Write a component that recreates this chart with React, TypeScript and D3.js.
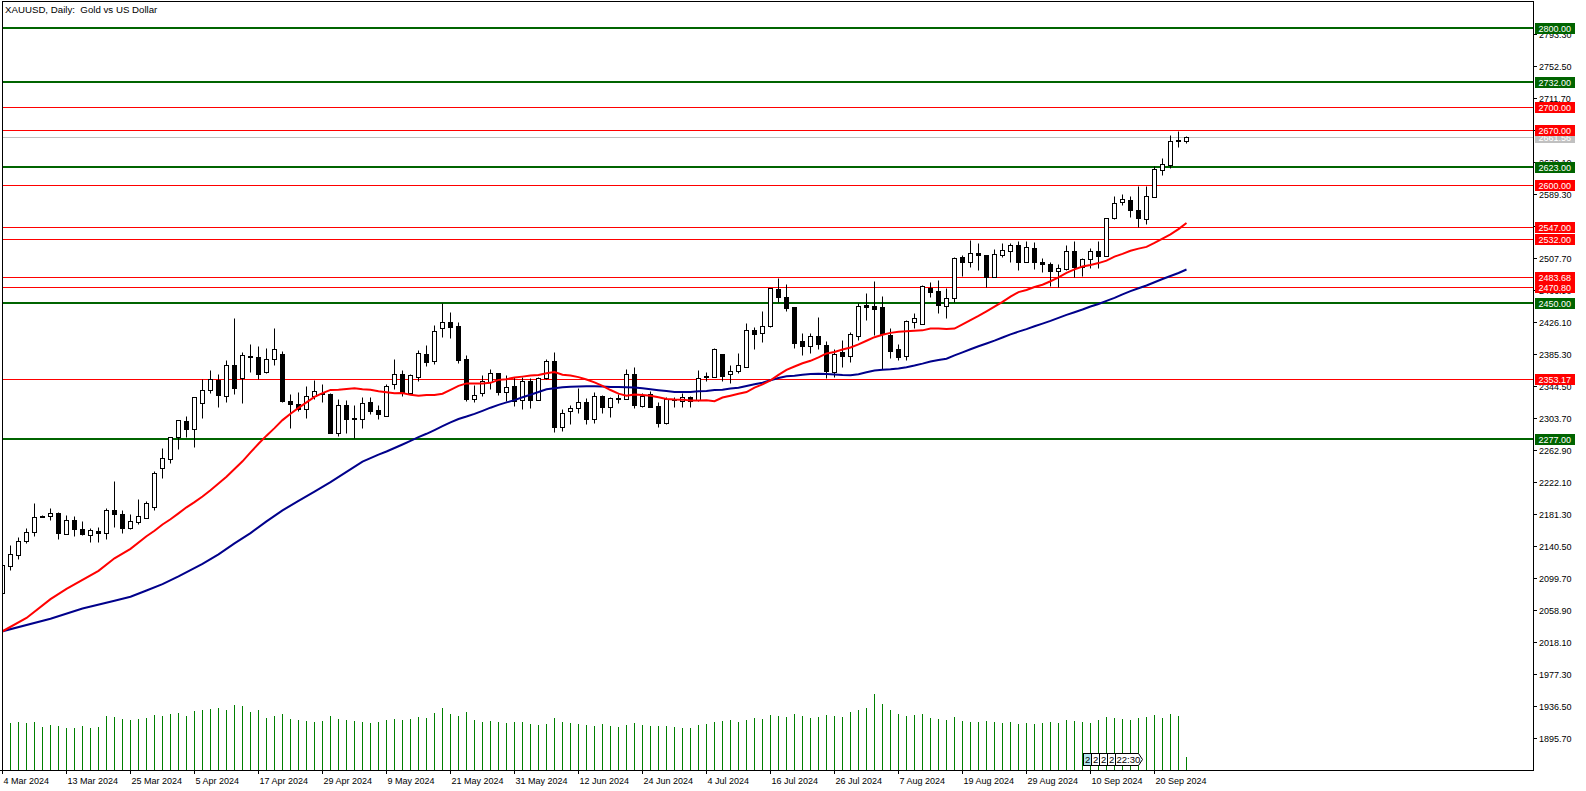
import React from "react";
import * as d3 from "d3";

const W = 1586;
const H = 791;

// OHLC, daily bars from 4 Mar 2024 to 26 Sep 2024
const opens = [2081.1,2115.5,2129.1,2146.5,2158,2179,2179.2,2182.2,2155.4,2173.7,2161.8,2154.1,2160.1,2156.7,2186,2180.9,2163.9,2170.7,2176.6,2190.6,2239.5,2250.9,2279,2299.8,2289.1,2322.3,2339.3,2352,2332,2370.7,2355,2381.4,2380.9,2362.6,2378.3,2384.7,2325.3,2321.4,2314.6,2332,2334.6,2334.2,2284,2320.1,2303.5,2301.9,2323.5,2313.8,2306.5,2346.5,2359.2,2335,2356.2,2384.7,2376.6,2417.8,2425.4,2420.8,2378.7,2328.2,2335.8,2349.9,2360.5,2337.1,2344.3,2326.5,2350.7,2326.5,2354.9,2376.2,2291.7,2312.1,2315.9,2323.5,2302.7,2331.6,2318,2328.9,2327.4,2359.2,2319.3,2333.7,2318.9,2297.7,2326.5,2325.7,2330.8,2326.5,2356.6,2355.4,2384.7,2359.2,2363,2369,2415.7,2411.9,2421.2,2467.5,2457.3,2444.6,2401.7,2395.7,2408.1,2396.2,2362.6,2388.1,2383,2408.5,2447.5,2446.3,2444.6,2409.3,2391.5,2382,2426.3,2423.4,2468.8,2465.4,2446.7,2456.1,2508.3,2502.8,2514.3,2511.3,2483.7,2510.8,2516.8,2524,2502.8,2519.8,2502.8,2499.4,2491.3,2493.4,2516.4,2496.4,2505.7,2516.4,2510.4,2558,2578.4,2580.9,2568.6,2556.7,2584.7,2619.1,2625.9,2657.8,2656.5];
const highs = [2117.5,2141.8,2151.6,2163,2195.7,2179.5,2188.5,2184.3,2180,2178.8,2172.8,2163,2164.3,2188.5,2223.3,2186.4,2181.3,2200,2197.9,2235.7,2265,2279.8,2300.6,2305.7,2329.9,2353.7,2364.7,2359.6,2377.5,2431.4,2388.1,2397.4,2395.3,2392.3,2418.2,2388.9,2333.7,2336.3,2343.9,2352,2346.5,2336,2327.4,2326.5,2320.1,2330.8,2330.8,2320.1,2346.5,2378.3,2364.7,2359.2,2390.2,2396.6,2422,2449.6,2439,2426.3,2383.8,2345.6,2358.4,2365.6,2361.3,2358.4,2355.4,2356.2,2354.1,2356.2,2378.3,2388.1,2314.6,2320.1,2341.4,2329.5,2336.7,2332.9,2330.8,2334.2,2366,2368.1,2335,2338,2324.4,2330.8,2330.8,2335,2331.6,2364.7,2362.6,2392.3,2384.7,2371.1,2385.9,2424.2,2419.9,2439.9,2468.8,2481.5,2474.3,2444.6,2411.5,2411.5,2431.8,2401.7,2391.1,2403,2413.6,2449.7,2463.2,2478.1,2459,2417.8,2397.4,2429,2437,2473,2477.3,2479.4,2468.8,2509.2,2511.3,2530.4,2526.1,2511.3,2518.5,2526.1,2527,2529.1,2529.1,2528.3,2507,2502.8,2499.4,2524,2529.1,2507.9,2519.8,2529.1,2558.8,2586.8,2589,2586.4,2599.6,2599.2,2625.1,2635.2,2664.1,2669.2,2663.3];
const lows = [2080,2110,2123.6,2144,2153.3,2177.5,2173.7,2149.9,2155.4,2153.3,2154.1,2145.2,2146.1,2149,2165.2,2156.7,2161.8,2169,2176.6,2186.4,2227.6,2245.8,2264.5,2279.8,2267.1,2303.2,2335.9,2318,2324.4,2333.7,2323.1,2362.6,2353.3,2361.3,2371.1,2324.4,2291.3,2313,2304,2328,2324.4,2284,2281,2284,2277.7,2291.3,2308.7,2302.7,2306.5,2340.5,2332,2333.7,2351.1,2370.2,2372.4,2407.2,2405.9,2373.2,2325.7,2324.4,2331.6,2340.1,2332.9,2325.7,2319.3,2314.6,2315.9,2326.5,2353.3,2286.2,2287.4,2295.9,2309.5,2295.5,2297,2309.5,2305.3,2323.1,2327.4,2315.9,2317.2,2318,2292.6,2296,2318,2318,2318,2325.7,2351.1,2355.4,2350.7,2348.6,2361.3,2369,2391.1,2400.8,2419.1,2451.8,2439.9,2393.2,2383.9,2386.8,2391.1,2354.1,2355.4,2369,2375.4,2403,2428.4,2409.3,2366,2380.5,2377.5,2378,2417.8,2423.4,2458.2,2437.8,2431.4,2451.8,2484.5,2496.4,2492.2,2470.1,2483.7,2508.3,2502.8,2492.2,2502.8,2493.4,2490,2472.2,2470.1,2492.2,2482.8,2484.5,2494.3,2494.3,2510.4,2556.7,2575,2560.1,2546.9,2550.3,2584.7,2613.2,2621.7,2649.3,2654.4];
const closes = [2116.3,2129.9,2146.9,2158,2177,2178,2182.2,2157.5,2173.7,2161.8,2155.4,2160.9,2157.5,2186,2180.9,2163.9,2172.4,2178.3,2195.3,2233.5,2252.2,2279.8,2300.6,2289.6,2329.9,2339.3,2352.8,2333.3,2370.7,2342.2,2383.4,2382,2359.2,2378.3,2391.1,2325.7,2321,2315.5,2331.6,2337.9,2335,2284.9,2320.1,2302.7,2302.7,2322.3,2312.9,2308.3,2344.8,2359.2,2335,2357.9,2386,2375.4,2414,2425.4,2419.9,2377.5,2327.8,2332.5,2350.7,2360.5,2337.1,2342.6,2325.2,2350.7,2326.5,2354.1,2376.2,2292.5,2309.5,2316.3,2323.5,2302.7,2331.6,2318,2328.6,2327.6,2359.2,2320.1,2332.1,2318,2297.7,2327.4,2327.4,2330.8,2325.7,2355,2355.8,2391.1,2357.5,2363,2370.7,2415.7,2410.2,2421.2,2468.8,2458.2,2444.1,2399.6,2395.7,2408.5,2397.4,2363.9,2385.1,2383,2410.2,2446.3,2445.4,2442.5,2410.2,2389.4,2381.7,2427.2,2430.6,2472.2,2464.6,2447.6,2456.1,2507,2502.8,2513.4,2510.8,2483.7,2512.1,2517.2,2524,2502.8,2521,2502.8,2499.4,2491.3,2494.3,2516.4,2496.4,2506.2,2516.4,2510.4,2558,2577.1,2582.2,2568.2,2558,2586.4,2620.8,2626.8,2656.5,2656.1,2661.2];
const volumes = [239,235,239,235,240,215,225,220,210,212,218,208,215,270,265,255,250,255,260,275,270,280,285,270,295,300,305,310,300,325,320,290,300,260,270,280,255,250,245,240,245,270,255,250,245,240,235,240,250,255,250,255,265,260,285,310,280,270,290,250,240,245,240,235,238,240,230,225,228,260,240,235,230,225,222,228,220,215,225,235,225,220,218,222,215,210,212,225,230,240,245,250,240,250,260,255,275,270,265,280,270,260,265,275,270,265,290,300,310,380,330,300,280,270,275,280,260,255,250,265,245,240,238,245,240,235,240,230,235,228,235,240,235,250,245,240,235,250,265,260,255,250,260,265,275,260,280,270,67];

const ma20EarlyIdx = [0, 3, 6, 8, 12, 14, 16, 18];
const ma20EarlyVal = [2032, 2049, 2073, 2086, 2109, 2125, 2137, 2153];
const ma50EarlyIdx = [0, 6, 10, 14, 16, 18, 20, 22, 25, 27, 29, 31, 33, 35, 37, 39, 41, 43, 45, 47, 48];
const ma50EarlyVal = [2032, 2048, 2061, 2071, 2076, 2084, 2092, 2102, 2118, 2130, 2144, 2157, 2172, 2186, 2198, 2210, 2222, 2235, 2248, 2257, 2261];

const greenLevels = [2800, 2732, 2623, 2450, 2277];
const redLevels = [2700, 2670, 2600, 2547, 2532, 2483.68, 2470.8, 2353.17];
const currentPrice = 2661.56;

const priceTicks = [1895.7,1936.5,1977.3,2018.1,2058.9,2099.7,2140.5,2181.3,2222.1,2262.9,2303.7,2344.5,2385.3,2426.1,2466.9,2507.7,2548.5,2589.3,2630.1,2670.9,2711.7,2752.5,2793.3];

const dateLabels = ["4 Mar 2024","13 Mar 2024","25 Mar 2024","5 Apr 2024","17 Apr 2024","29 Apr 2024","9 May 2024","21 May 2024","31 May 2024","12 Jun 2024","24 Jun 2024","4 Jul 2024","16 Jul 2024","26 Jul 2024","7 Aug 2024","19 Aug 2024","29 Aug 2024","10 Sep 2024","20 Sep 2024"];
const dateIdx = [0,8,16,24,32,40,48,56,64,72,80,88,96,104,112,120,128,136,144];

const eventLabels = ["2", "2", "2", "2", "22:30"];

const FONT = "'Liberation Sans', Arial, sans-serif";

export default function App() {
  const n = closes.length;
  const x = d3.scaleLinear().domain([0, n - 1]).range([2.5, 1186.5]);
  const y = d3.scaleLinear().domain([1895.7, 2800]).range([738.3, 28.3]);
  const yv = d3.scaleLinear().domain([0, 400]).range([770, 690]);
  const sy = (v: number) => Math.round(y(v)) + 0.5;
  const PLOT_R = 1533;
  const PLOT_B = 770;

  const sma = (src: number[], p: number, i: number) => d3.mean(src.slice(i - p + 1, i + 1)) as number;

  const ma20: { i: number; v: number }[] = ma20EarlyIdx.map((i, k) => ({ i, v: ma20EarlyVal[k] }));
  for (let i = 19; i < n; i++) ma20.push({ i, v: sma(opens, 20, i) });
  const ma50: { i: number; v: number }[] = ma50EarlyIdx.map((i, k) => ({ i, v: ma50EarlyVal[k] }));
  for (let i = 49; i < n; i++) ma50.push({ i, v: sma(closes, 50, i) });

  const line = d3.line<{ i: number; v: number }>().x((d) => x(d.i)).y((d) => y(d.v));

  const levelBox = (v: number, fill: string, key: string) => {
    const cy = y(v);
    return (
      <g key={key}>
        <rect x={1535} y={Math.round(cy) - 5} width={40} height={11} fill={fill} />
        <text x={1538.5} y={Math.round(cy) + 4} fontSize={9} fill="#fff" fontFamily={FONT}>
          {v.toFixed(2)}
        </text>
      </g>
    );
  };

  return (
    <svg width={W} height={H} style={{ position: "fixed", left: 0, top: 0, background: "#fff" }}>
      <defs>
        <clipPath id="plot">
          <rect x={3} y={2} width={PLOT_R - 3} height={PLOT_B - 2} />
        </clipPath>
      </defs>
      <rect x={0} y={0} width={W} height={H} fill="#fff" />

      <g clipPath="url(#plot)">
        {/* volumes */}
        {volumes.map((v, i) => (
          <line key={"v" + i} x1={x(i)} x2={x(i)} y1={PLOT_B} y2={Math.round(yv(v))} stroke="#008000" strokeWidth={1} />
        ))}
        {/* level lines */}
        <line x1={0} x2={PLOT_R} y1={sy(currentPrice)} y2={sy(currentPrice)} stroke="#c0c0c0" strokeWidth={1} />
        {redLevels.map((v) => (
          <line key={"r" + v} x1={0} x2={PLOT_R} y1={sy(v)} y2={sy(v)} stroke="#ff0000" strokeWidth={1} />
        ))}
        {greenLevels.map((v) => (
          <line key={"g" + v} x1={0} x2={PLOT_R} y1={Math.round(y(v))} y2={Math.round(y(v))} stroke="#006400" strokeWidth={2} />
        ))}
        {/* candles */}
        {closes.map((c, i) => {
          const o = opens[i];
          const cx = x(i);
          const top = Math.round(y(Math.max(o, c))) + 0.5;
          const bot = Math.round(y(Math.min(o, c))) + 0.5;
          const bull = c > o;
          return (
            <g key={"c" + i}>
              <line x1={cx} x2={cx} y1={sy(highs[i])} y2={sy(lows[i])} stroke="#000" strokeWidth={1} />
              {bot - top < 1 ? (
                <line x1={cx - 2.5} x2={cx + 2.5} y1={top} y2={top} stroke="#000" strokeWidth={1} />
              ) : (
                <rect x={cx - 2} y={top} width={4} height={bot - top} fill={bull ? "#fff" : "#000"} stroke="#000" strokeWidth={1} />
              )}
            </g>
          );
        })}
        {/* moving averages */}
        <path d={line(ma50) || ""} fill="none" stroke="#00008b" strokeWidth={2} />
        <path d={line(ma20) || ""} fill="none" stroke="#ff0000" strokeWidth={2} />
      </g>

      {/* frame */}
      <line x1={2.5} x2={2.5} y1={1} y2={PLOT_B + 0.5} stroke="#000" />
      <line x1={2} x2={PLOT_R + 0.5} y1={1.5} y2={1.5} stroke="#000" />
      <line x1={PLOT_R + 0.5} x2={PLOT_R + 0.5} y1={1} y2={PLOT_B + 1} stroke="#000" />
      <line x1={0} x2={PLOT_R + 1} y1={PLOT_B + 0.5} y2={PLOT_B + 0.5} stroke="#000" />

      {/* price ticks */}
      {priceTicks.map((p) => (
        <g key={"t" + p}>
          <line x1={PLOT_R} x2={PLOT_R + 4} y1={sy(p)} y2={sy(p)} stroke="#000" />
          <text x={1539} y={Math.round(y(p)) + 4} fontSize={9} fill="#000" fontFamily={FONT}>
            {p.toFixed(2)}
          </text>
        </g>
      ))}

      {/* date ticks */}
      {dateIdx.map((di, k) => (
        <g key={"d" + k}>
          <line x1={x(di)} x2={x(di)} y1={PLOT_B} y2={PLOT_B + 4} stroke="#000" />
          <text x={x(di) + 1} y={783.5} fontSize={9} fill="#000" fontFamily={FONT}>
            {dateLabels[k]}
          </text>
        </g>
      ))}

      {/* value labels on the axis */}
      {levelBox(currentPrice, "#c0c0c0", "cp")}
      {redLevels.map((v) => levelBox(v, "#ff0000", "rb" + v))}
      {greenLevels.map((v) => levelBox(v, "#006400", "gb" + v))}

      {/* event marker at the bottom */}
      <g fontFamily={FONT} fontSize={9.5}>
        {eventLabels.slice(0, 4).map((t, k) => (
          <g key={"e" + k}>
            <rect x={1083.5 + k * 8} y={753.5} width={8} height={12} fill={k === 0 ? "#b0e6ee" : "#fff"} stroke="#000" />
            <text x={1085 + k * 8} y={763} fill="#000">{t}</text>
          </g>
        ))}
        <path d="M1115.5,753.5 H1138.5 L1142.5,759.5 L1138.5,765.5 H1115.5 Z" fill="#fff" stroke="#000" />
        <text x={1116.5} y={763} fill="#000">{eventLabels[4]}</text>
      </g>

      {/* title */}
      <text x={5} y={13} fontSize={9.7} fill="#000" fontFamily={FONT} style={{ whiteSpace: "pre" }}>
        {"XAUUSD, Daily:  Gold vs US Dollar"}
      </text>
    </svg>
  );
}
